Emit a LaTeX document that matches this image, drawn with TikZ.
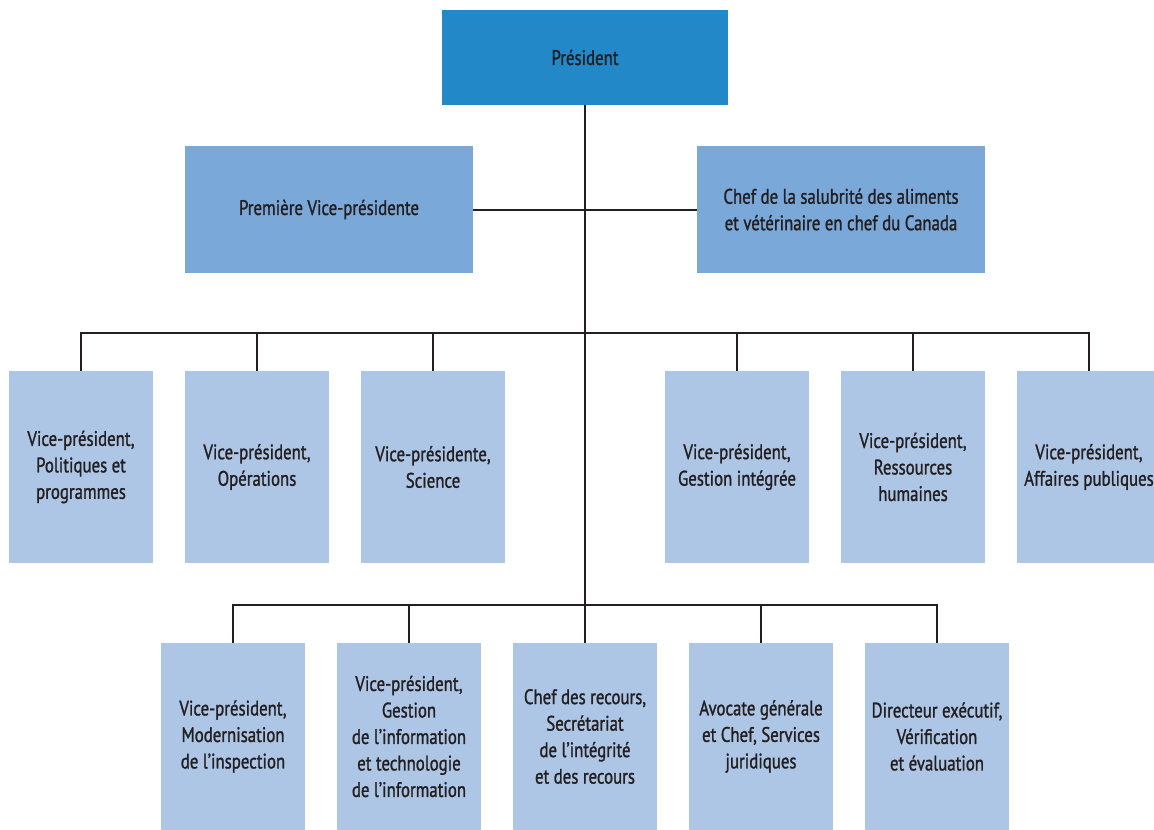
\documentclass[tikz,border=0pt]{standalone}
\usepackage{fontspec}
\setmainfont{PT Sans}[FakeStretch=0.8,FakeBold=1.2]
\definecolor{pres}{HTML}{2288C8}
\definecolor{lvltwo}{HTML}{7AA8D9}
\definecolor{lvlthree}{HTML}{ADC6E6}
\definecolor{ink}{HTML}{231F20}
\begin{document}
\begin{tikzpicture}[x=1pt,y=-1pt,
  box/.style={rectangle,inner sep=0pt,align=center,text=ink,
    font=\fontsize{21}{26.5}\selectfont},
  presbox/.style={box,fill=pres,minimum width=286pt,minimum height=95pt},
  twobox/.style={box,fill=lvltwo,minimum width=288pt,minimum height=127pt},
  threebox/.style={box,fill=lvlthree,minimum width=144pt,minimum height=192pt},
  fourbox/.style={box,fill=lvlthree,minimum width=144pt,minimum height=187pt},
  link/.style={draw=ink,line width=2pt}]
\useasboundingbox (0,0) rectangle (1154,830);
\node[presbox] (p) at (585,57.5) {Président};
\node[twobox] (fvp) at (329,209.5) {Première Vice-présidente};
\node[twobox] (chef) at (841,209.5) {Chef de la salubrité des aliments\\et vétérinaire en chef du Canada};
\node[threebox] (a1) at (81,467) {Vice-président,\\Politiques et\\programmes};
\node[threebox] (a2) at (257,467) {Vice-président,\\Opérations};
\node[threebox] (a3) at (433,467) {Vice-présidente,\\Science};
\node[threebox] (a4) at (737,467) {Vice-président,\\Gestion intégrée};
\node[threebox] (a5) at (913,467) {Vice-président,\\Ressources\\humaines};
\node[threebox] (a6) at (1089,467) {Vice-président,\\Affaires publiques};
\node[fourbox] (b1) at (233,736.5) {Vice-président,\\Modernisation\\de l’inspection};
\node[fourbox] (b2) at (409,736.5) {Vice-président,\\Gestion\\de l’information\\et technologie\\de l’information};
\node[fourbox] (b3) at (585,736.5) {Chef des recours,\\Secrétariat\\de l'intégrité\\et des recours};
\node[fourbox] (b4) at (761,736.5) {Avocate générale\\et Chef, Services\\juridiques};
\node[fourbox] (b5) at (937,736.5) {Directeur exécutif,\\Vérification\\et évaluation};
\coordinate (barA) at (585,333);
\coordinate (barB) at (585,605);
\draw[link] (p.south) -- (b3.north);
\draw[link] (fvp.east) -- (chef.west);
\draw[link,line join=miter] (a1.north) |- (barA) -| (a6.north);
\foreach \n in {a2,a3,a4,a5}{\draw[link] (\n.north) -- (\n.north |- barA);}
\draw[link,line join=miter] (b1.north) |- (barB) -| (b5.north);
\foreach \n in {b2,b4}{\draw[link] (\n.north) -- (\n.north |- barB);}
\end{tikzpicture}
\end{document}
